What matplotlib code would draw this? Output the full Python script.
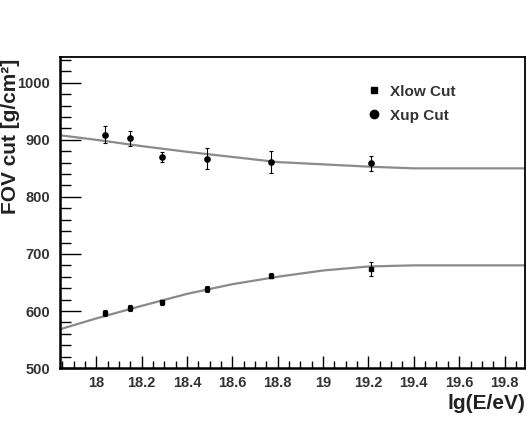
import matplotlib
matplotlib.use("Agg")
import matplotlib.pyplot as plt
from matplotlib.lines import Line2D
from matplotlib.ticker import MultipleLocator

plt.rcParams['font.family'] = ['Liberation Sans', 'DejaVu Sans']
plt.rcParams['font.weight'] = 'bold'

# measured points
energy = [18.04, 18.15, 18.29, 18.49, 18.77, 19.21]
xup = [909, 903, 870, 867, 861, 859]
xup_err = [15, 13, 8, 18, 20, 13]
xlow = [596, 605, 615, 638, 662, 674]
xlow_err = [5, 5, 4, 5, 4, 12]

# fitted curves
fit_x = [17.84, 18.0, 18.2, 18.4, 18.6, 18.8, 19.0, 19.2, 19.4, 19.6, 19.89]
fit_up = [908, 900, 889, 879, 870, 861, 857, 853, 850, 850, 850]
fit_low = [568, 587, 609, 630, 647, 660, 671, 678, 680, 680, 680]

fig = plt.figure(figsize=(5.26, 4.26), dpi=100)
ax = fig.add_axes([0.114, 0.136, 0.884, 0.73])

ax.plot(fit_x, fit_up, color='#8a8a8a', lw=1.6)
ax.plot(fit_x, fit_low, color='#8a8a8a', lw=1.6)

ax.errorbar(energy, xup, yerr=xup_err, fmt='o', color='black', ms=3.8,
            elinewidth=0.8, capsize=1.5, capthick=0.8)
ax.errorbar(energy, xlow, yerr=xlow_err, fmt='s', color='black', ms=3.5,
            elinewidth=0.8, capsize=1.5, capthick=0.8)

ax.set_xlim(17.84, 19.89)
ax.set_ylim(500, 1045)
ax.xaxis.set_major_locator(MultipleLocator(0.2))
ax.xaxis.set_minor_locator(MultipleLocator(0.05))
ax.yaxis.set_major_locator(MultipleLocator(100))
ax.yaxis.set_minor_locator(MultipleLocator(20))
ax.xaxis.set_major_formatter(matplotlib.ticker.FuncFormatter(lambda v, p: f"{v:g}"))
ax.tick_params(axis='x', which='major', direction='in', length=9, width=1, labelsize=10.5, pad=6)
ax.tick_params(axis='x', which='minor', direction='in', length=5, width=1)
ax.tick_params(axis='y', which='major', direction='in', length=15, width=1, labelsize=10.5, pad=7)
ax.tick_params(axis='y', which='minor', direction='in', length=8, width=1)
for lab in ax.get_xticklabels() + ax.get_yticklabels():
    lab.set_fontweight('bold')
    lab.set_color('#333333')
for s in ax.spines.values():
    s.set_linewidth(1.3)
ax.spines['left'].set_linewidth(1.8)
ax.spines['bottom'].set_linewidth(1.8)

fig.text(0.002, 0.681, 'FOV cut [g/cm²]', fontsize=15, fontweight='bold',
         rotation=90, ha='left', va='center', color='#222222')
fig.text(0.998, 0.03, 'lg(E/eV)', fontsize=15, fontweight='bold', ha='right', va='bottom',
         color='#222222')

handles = [Line2D([], [], ls='none', marker='s', ms=5, color='black'),
           Line2D([], [], ls='none', marker='o', ms=6, color='black')]
leg = ax.legend(handles, ['Xlow Cut', 'Xup Cut'], loc='upper left',
                bbox_to_anchor=(0.63, 0.955), frameon=False, handlelength=1.0,
                handletextpad=0.5, labelspacing=0.65, prop={'weight': 'bold', 'size': 11})
for t in leg.get_texts():
    t.set_color('#333333')

fig.savefig('out.png', dpi=100)
